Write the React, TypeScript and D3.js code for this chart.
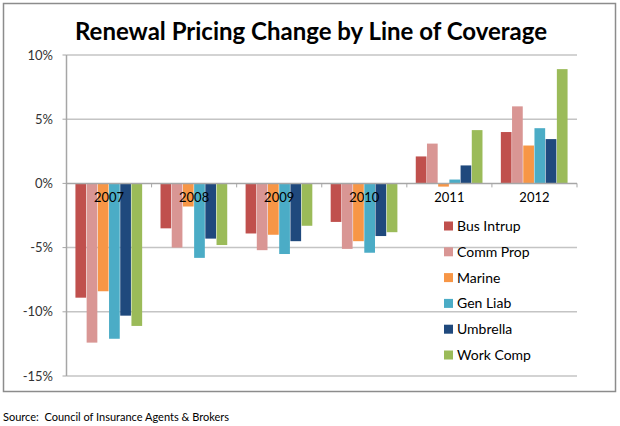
import React from 'react'
import { scaleBand, scaleLinear } from 'd3'

const years = ['2007', '2008', '2009', '2010', '2011', '2012']
const lines = ['Bus Intrup', 'Comm Prop', 'Marine', 'Gen Liab', 'Umbrella', 'Work Comp']
const colors = ['#C0504D', '#D99694', '#F79646', '#4BACC6', '#1F497D', '#9BBB59']

const busIntrup = [-8.9, -3.5, -3.9, -3.0, 2.1, 4.0]
const commProp = [-12.4, -5.0, -5.2, -5.1, 3.1, 6.0]
const marine = [-8.4, -1.8, -4.0, -4.5, -0.25, 2.95]
const genLiab = [-12.1, -5.8, -5.5, -5.4, 0.3, 4.3]
const umbrella = [-10.3, -4.3, -4.5, -4.1, 1.4, 3.45]
const workComp = [-11.1, -4.8, -3.3, -3.8, 4.15, 8.9]
const series = [busIntrup, commProp, marine, genLiab, umbrella, workComp]

const yTicks = [10, 5, 0, -5, -10, -15]

const font = 'Lato, "Liberation Sans", sans-serif'

export default function App() {
  const left = 66.5
  const right = 577
  const top = 55
  const bottom = 376

  const x = scaleBand().domain(years).range([left, right]).paddingInner(0.21).paddingOuter(0.105)
  const inner = scaleBand().domain(lines).range([0, x.bandwidth()])
  const y = scaleLinear().domain([-15, 10]).range([bottom, top])
  const step = (right - left) / years.length

  return (
    <svg width={620} height={426} style={{ position: 'absolute', left: 0, top: 0, background: '#fff' }}>
      <rect x={3.5} y={3.5} width={612} height={388} fill="#fff" stroke="#8c8c8c" strokeWidth={1.5} />
      <text x={311} y={40} textAnchor="middle" fontFamily={font} fontWeight="bold" fontSize={24} fill="#000">
        Renewal Pricing Change by Line of Coverage
      </text>

      {yTicks.map((t) => (
        <g key={t}>
          {t !== 0 && (
            <line x1={left} x2={right} y1={y(t)} y2={y(t)} stroke="#c4c4c4" strokeWidth={1.5} />
          )}
          <line x1={left - 4} x2={left} y1={y(t)} y2={y(t)} stroke="#a6a6a6" strokeWidth={1} />
          <text x={53} y={y(t)} dy="0.35em" textAnchor="end" fontFamily={font} fontSize={13} fill="#333">
            {t}%
          </text>
        </g>
      ))}
      <line x1={left} x2={left} y1={top} y2={bottom} stroke="#a6a6a6" strokeWidth={1.5} />

      {series.map((vals, si) =>
        vals.map((v, yi) => (
          <rect
            key={`${si}-${yi}`}
            x={(x(years[yi]) as number) + (inner(lines[si]) as number)}
            y={y(Math.max(0, v))}
            width={inner.bandwidth() - 0.5}
            height={Math.abs(y(v) - y(0))}
            fill={colors[si]}
          />
        ))
      )}

      <line x1={left} x2={right} y1={y(0)} y2={y(0)} stroke="#a6a6a6" strokeWidth={1.5} />
      {years.concat(['end']).map((d, i) => (
        <line key={d} x1={left + i * step} x2={left + i * step} y1={y(0)} y2={y(0) + 4} stroke="#a6a6a6" strokeWidth={1} />
      ))}
      {years.map((d) => (
        <text key={d} x={(x(d) as number) + x.bandwidth() / 2} y={y(0) + 19} textAnchor="middle" fontFamily={font} fontSize={13} fill="#000">
          {d}
        </text>
      ))}

      {lines.map((name, i) => (
        <g key={name} transform={`translate(444, ${226 + i * 25.8})`}>
          <rect x={0} y={-4.5} width={9} height={9} fill={colors[i]} />
          <text x={13} y={0} dy="0.35em" fontFamily={font} fontSize={14} fill="#000">
            {name}
          </text>
        </g>
      ))}

      <text x={3} y={421} fontFamily={font} fontSize={11} fill="#000" style={{ whiteSpace: 'pre' }}>
        {'Source:  Council of Insurance Agents & Brokers'}
      </text>
    </svg>
  )
}
